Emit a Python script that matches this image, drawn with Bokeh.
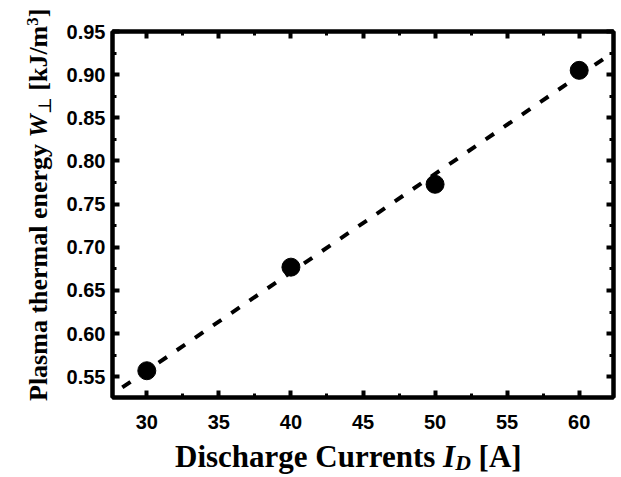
import numpy as np
from bokeh.plotting import figure
from bokeh.models import (Range1d, FixedTicker, LinearAxis, Div,
                          CustomJSTickFormatter, PrintfTickFormatter)
from bokeh.layouts import row, column
from bokeh.embed import file_html
from bokeh.resources import INLINE

# ---- data ----
currents = [30, 40, 50, 60]
energy = [0.557, 0.677, 0.773, 0.905]
x_ticks = [30, 35, 40, 45, 50, 55, 60]
x_minor = [27.5, 32.5, 37.5, 42.5, 47.5, 52.5, 57.5, 62.5]
y_ticks = [0.55, 0.60, 0.65, 0.70, 0.75, 0.80, 0.85, 0.90, 0.95]
y_minor = [0.525, 0.575, 0.625, 0.675, 0.725, 0.775, 0.825, 0.875, 0.925]
x_range = (27.62, 62.38)
y_range = (0.526, 0.95)
fit_x_span = [28.3, 63.0]

x_title_html = ('Discharge Currents <i>I</i>'
                '<i style="font-size:0.7em;vertical-align:-3px">D</i> [A]')
y_title_html = ('Plasma thermal energy <i>W</i>'
                '<span style="font-size:0.7em;font-weight:normal;vertical-align:-4px;'
                'font-family:\'DejaVu Serif\'">\u22a5</span>'
                ' [kJ/m<span style="font-size:0.65em;vertical-align:9px">3</span>]')

slope, intercept = np.polyfit(currents, energy, 1)
fit_x = np.array(fit_x_span)
fit_y = slope * fit_x + intercept

YDIV_W = 56
FIG_W, FIG_H = 621 - YDIV_W, 440
XDIV_H = 477 - FIG_H

p = figure(width=FIG_W, height=FIG_H, output_backend="svg", toolbar_location=None,
           x_range=Range1d(*x_range), y_range=Range1d(*y_range),
           min_border_left=112 - YDIV_W, min_border_right=8, min_border_top=31,
           min_border_bottom=FIG_H - 397, x_axis_type=None, y_axis_type=None)
p.grid.visible = False
p.background_fill_color = "white"
p.border_fill_color = "white"
p.outline_line_color = "black"
p.outline_line_width = 4

xt = FixedTicker(ticks=x_ticks, minor_ticks=x_minor)
yt = FixedTicker(ticks=y_ticks, minor_ticks=y_minor)
blank = CustomJSTickFormatter(code="return ''")


def style(ax, show):
    ax.axis_line_width = 4
    ax.axis_line_color = "black"
    ax.major_tick_in = 7
    ax.major_tick_out = 0
    ax.minor_tick_in = 4
    ax.minor_tick_out = 0
    ax.major_tick_line_width = 4
    ax.minor_tick_line_width = 3
    ax.major_tick_line_color = "black"
    ax.minor_tick_line_color = "black"
    ax.major_label_text_font = "Liberation Sans"
    ax.major_label_text_font_size = "20px"
    ax.major_label_text_font_style = "bold"
    ax.major_label_text_color = "black"
    if not show:
        ax.major_label_standoff = 0


bottom = LinearAxis(ticker=xt)
style(bottom, True)
bottom.major_label_standoff = 17
left = LinearAxis(ticker=yt, formatter=PrintfTickFormatter(format="%.2f"))
style(left, True)
left.major_label_standoff = 7
top = LinearAxis(ticker=xt, formatter=blank)
style(top, False)
right = LinearAxis(ticker=yt, formatter=blank)
style(right, False)
p.add_layout(bottom, "below")
p.add_layout(left, "left")
p.add_layout(top, "above")
p.add_layout(right, "right")

p.line(fit_x, fit_y, line_width=4, line_color="black", line_dash="10 12")
p.scatter(currents, energy, size=18, fill_color="black", line_color="black")

# ---- axis titles as rich text (bold serif, italic symbols, sub/superscripts) ----
font_css = "font-family:'Liberation Serif';font-weight:bold;color:black;white-space:nowrap;line-height:1;"

ydiv = Div(width=YDIV_W, height=477, margin=0, text=(
    f'<div style="position:relative;width:{YDIV_W}px;height:477px;">'
    f'<div style="position:absolute;left:25px;top:401px;transform:rotate(-90deg);'
    f'transform-origin:left top;font-size:26px;{font_css}">{y_title_html}</div></div>'))

xdiv = Div(width=FIG_W, height=XDIV_H, margin=0, text=(
    f'<div style="position:relative;width:{FIG_W}px;height:{XDIV_H}px;">'
    f'<div style="position:absolute;left:{175 - YDIV_W}px;top:1px;'
    f'font-size:31px;{font_css}">{x_title_html}</div></div>'))

layout = row(ydiv, column(p, xdiv, spacing=0), spacing=0)

open("out.html", "w").write(file_html(layout, INLINE))
